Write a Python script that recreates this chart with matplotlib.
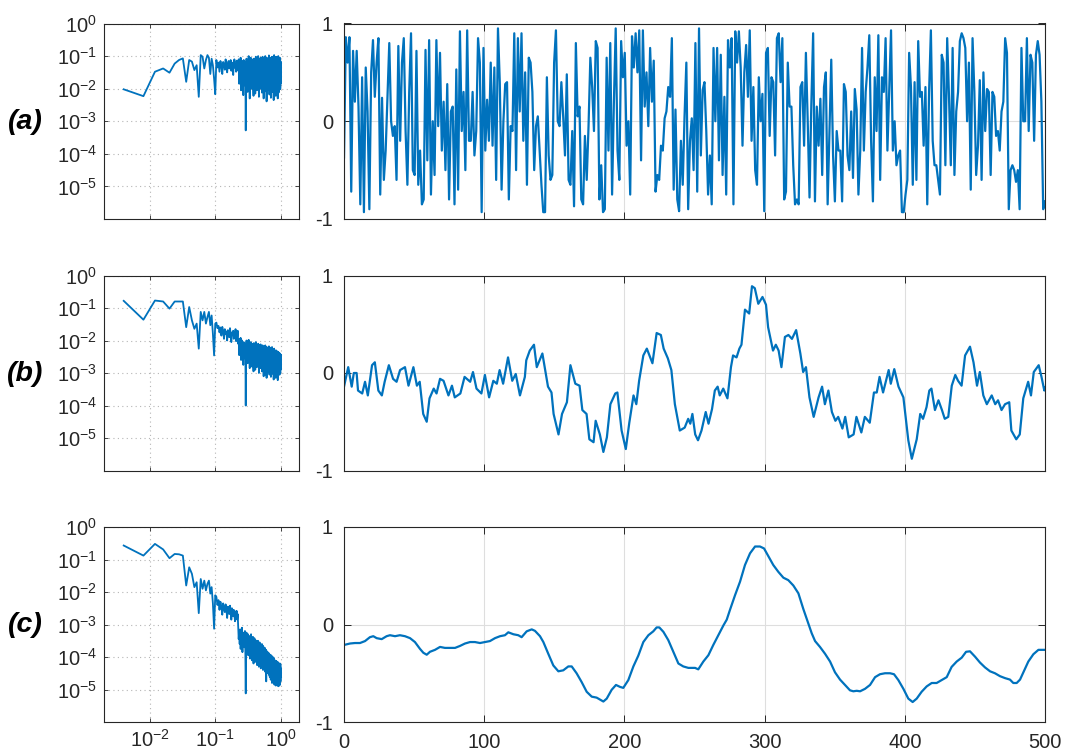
import numpy as np
import matplotlib
matplotlib.use("Agg")
import matplotlib.pyplot as plt
from matplotlib.ticker import NullLocator

plt.rcParams['font.family'] = ['Liberation Sans', 'DejaVu Sans']
plt.rcParams['axes.unicode_minus'] = False

# --- time signals -----------------------------------------------------------
# (a) white-ish noise, read peak by peak from the picture
sig_a = [
    -0.37, 0.86, 0.6, 0.86, -0.72, 0.72, 0.2, 0.72, 0.15, -0.85,
    0.45, -0.93, 0.55, 0.1, -0.9, 0.5, 0.83, 0.25, 0.6, 0.85,
    -0.75, 0.24, -0.6, -0.3, 0.25, 0.8, 0.0, -0.15, -0.05, -0.6,
    0.77, -0.2, 0.6, 0.85, -0.1, -0.65, 0.3, 0.9, -0.5, -0.55,
    0.72, -0.65, -0.3, -0.85, -0.8, 0.73, -0.4, 0.83, -0.75, 0.0,
    -0.55, 0.83, -0.05, 0.7, -0.3, 0.2, -0.5, 0.38, -0.8, 0.1,
    0.15, -0.85, 0.53, -0.7, 0.92, -0.1, 0.3, -0.5, 0.93, -0.2,
    -0.2, 0.3, -0.35, -0.1, 0.85, 0.6, -0.93, 0.75, -0.3, 0.22,
    -0.2, 0.6, -0.25, 0.55, -0.6, 0.95, 0.4, -0.7, 0.0, 0.38,
    0.4, -0.8, -0.05, -0.1, 0.9, -0.5, 0.85, 0.1, 0.9, -0.2,
    0.5, -0.65, 0.65, 0.6, 0.3, -0.5, -0.05, 0.05, -0.3, -0.65,
    -0.93, -0.93, 0.45, -0.35, -0.6, -0.55, 0.6, 0.93, 0.0, -0.05,
    0.4, 0.05, -0.35, 0.48, -0.6, -0.65, -0.1, -0.87, 0.8, 0.05,
    0.15, -0.8, -0.85, -0.15, -0.6, -0.05, 0.65, 0.35, -0.1, 0.82,
    0.75, -0.8, -0.45, -0.93, -0.9, 0.65, -0.3, 0.8, -0.75, 0.2,
    0.95, -0.3, -0.6, 0.82, 0.45, 0.7, -0.25, 0.0, -0.75, 0.87,
    0.55, 0.9, 0.5, 0.93, -0.4, 0.93, 0.15, 0.5, -0.05, 0.75,
    0.2, 0.62, -0.72, -0.55, -0.6, -0.25, -0.3, 0.03, 0.1, 0.35,
    0.25, 0.85, -0.7, 0.12, -0.8, -0.92, -0.2, -0.65, 0.05, 0.6,
    -0.9, -0.2, 0.03, -0.5, 0.8, -0.72, 0.95, -0.35, 0.32, 0.4,
    -0.1, -0.75, -0.35, -0.85, 0.75, 0.0, 0.75, -0.4, 0.68, -0.55,
    0.25, -0.75, 0.83, 0.55, 0.85, -0.85, 0.92, 0.6, 0.92, 0.55,
    -0.25, 0.5, 0.78, 0.25, 0.93, -0.2, 0.35, -0.5, -0.65, 0.45,
    0.0, 0.28, -0.92, 0.7, 0.75, -0.15, 0.45, 0.4, -0.35, 0.85,
    0.9, 0.4, 0.85, -0.8, -0.72, 0.6, 0.15, 0.15, -0.45, -0.85,
    -0.8, -0.85, 0.35, 0.4, -0.25, 0.7, 0.0, -0.78, 0.18, 0.9,
    -0.82, 0.15, -0.25, 0.23, -0.55, 0.35, 0.5, -0.85, -0.1, 0.63,
    -0.35, -0.82, -0.1, -0.3, -0.3, -0.82, 0.38, 0.3, -0.35, -0.5,
    0.1, -0.58, 0.33, 0.12, -0.75, -0.3, 0.75, -0.3, 0.3, 0.55,
    0.88, -0.2, -0.82, 0.45, -0.1, 0.88, -0.6, 0.45, 0.3, 0.85,
    -0.3, 0.3, 0.93, -0.3, 0.0, -0.45, -0.35, -0.3, -0.93, -0.93,
    -0.75, -0.6, 0.7, 0.35, -0.65, 0.4, -0.6, 0.82, 0.25, 0.3,
    -0.25, 0.35, -0.85, 0.3, 0.93, -0.2, -0.45, -0.45, -0.6, -0.75,
    0.68, 0.6, -0.45, 0.85, 0.25, -0.45, 0.75, -0.55, 0.1, 0.3,
    0.82, 0.9, 0.85, 0.75, 0.0, 0.6, -0.7, 0.85, 0.3, -0.55,
    -0.25, 0.42, -0.6, 0.5, -0.1, 0.33, 0.3, -0.55, 0.3, 0.25,
    -0.15, -0.1, -0.3, 0.1, 0.2, 0.85, 0.7, -0.9, -0.5, -0.45,
    -0.5, -0.62, -0.5, -0.9, 0.75, 0.0, 0.0, 0.85, -0.1, 0.68,
    0.6, -0.2, 0.68, 0.82, 0.68, 0.2, -0.9, -0.82,
]

# (b) moderately smoothed signal: sample index / value
t_b = [0, 3, 5.5, 7, 9, 10, 13, 15, 17, 20, 22, 24.5, 27, 29, 32, 35, 37.5, 40,
       43.5, 46, 49.5, 52, 54, 56.5, 59, 61, 64, 66, 68.5, 71, 74.5, 77, 79, 83,
       86, 90, 92, 94.5, 98, 100.5, 103.5, 106.5, 109, 111, 113.5, 117, 120,
       122.5, 125.5, 129, 130, 132.5, 135.5, 137.5, 141.5, 145.5, 148, 149.5,
       153, 155.5, 159, 161.5, 165, 168, 170, 173, 175, 178, 179.5, 182.5, 185,
       187.5, 190, 193.5, 195, 198, 201, 203.5, 206.5, 208.5, 210.5, 213.5,
       216, 220, 223, 226, 228, 231, 233.5, 236, 239.5, 243, 245.5, 247, 248.5,
       250.5, 252.5, 255, 258, 260, 262.5, 264.5, 266.5, 268, 270.5, 273.5,
       276, 277.5, 280, 282, 283.5, 286, 289, 291, 293, 295.5, 298.5, 301,
       302.5, 306, 308, 310, 312, 314.5, 317, 319.5, 322.5, 325.5, 327.5,
       329.5, 332, 335, 338.5, 341, 343, 345.5, 348, 350.5, 352.5, 355.5, 357.5,
       360, 363.5, 365.5, 369, 371.5, 375, 378, 380, 382, 384.5, 388.5, 390,
       392.5, 395.5, 399, 402.5, 405, 408.5, 411, 413, 415.5, 417.5, 419, 421.5,
       424, 426.5, 428.5, 431, 433.5, 436, 438, 440.5, 443, 446.5, 449, 451.5,
       453.5, 456, 458.5, 462, 464.5, 466.5, 469, 471.5, 474.5, 476, 479.5, 482,
       484.5, 488, 490, 492, 495.5, 497.5, 499.5, 500]
sig_b = [-0.14, 0.06, -0.14, 0.0, 0.0, -0.18, -0.21, -0.09, -0.23, 0.08, 0.11,
         -0.18, -0.23, -0.09, 0.08, -0.06, -0.09, 0.03, 0.06, -0.13, 0.06,
         -0.13, -0.09, -0.42, -0.5, -0.26, -0.16, -0.21, -0.06, -0.08, -0.23,
         -0.13, -0.25, -0.21, -0.04, -0.09, 0.01, -0.16, -0.21, -0.02, -0.25,
         -0.08, -0.11, 0.03, -0.11, 0.16, -0.08, -0.01, -0.23, -0.04, 0.13,
         0.23, 0.29, 0.06, 0.2, -0.14, -0.2, -0.42, -0.63, -0.42, -0.3, 0.08,
         -0.11, -0.13, -0.38, -0.42, -0.68, -0.71, -0.49, -0.63, -0.81, -0.66,
         -0.32, -0.21, -0.2, -0.59, -0.78, -0.51, -0.23, -0.32, -0.08, 0.18,
         0.25, 0.1, 0.41, 0.39, 0.25, 0.15, 0.03, -0.32, -0.59, -0.56, -0.47,
         -0.52, -0.42, -0.63, -0.69, -0.59, -0.4, -0.52, -0.37, -0.18, -0.14,
         -0.23, -0.16, -0.26, 0.06, 0.18, 0.16, 0.25, 0.29, 0.65, 0.61, 0.89,
         0.87, 0.71, 0.78, 0.70, 0.47, 0.23, 0.29, 0.23, 0.06, 0.37, 0.39, 0.35,
         0.44, 0.2, 0.01, 0.06, -0.25, -0.45, -0.25, -0.14, -0.32, -0.18, -0.4,
         -0.49, -0.45, -0.57, -0.45, -0.66, -0.63, -0.45, -0.61, -0.45, -0.51,
         -0.2, -0.2, -0.04, -0.2, 0.03, -0.11, 0.04, -0.14, -0.25, -0.69, -0.88,
         -0.68, -0.42, -0.47, -0.35, -0.18, -0.16, -0.38, -0.28, -0.38, -0.47,
         -0.45, -0.13, -0.02, -0.08, -0.13, 0.18, 0.27, 0.11, -0.13, 0.01, -0.23,
         -0.32, -0.23, -0.32, -0.28, -0.38, -0.32, -0.3, -0.59, -0.68, -0.63,
         -0.26, -0.09, -0.23, 0.01, 0.08, -0.04, -0.18, -0.15]

# (c) strongly smoothed signal
t_c = [0, 4.3, 7.8, 11.4, 15, 18.5, 20.9, 23.3, 26.9, 30.4, 32.8, 36.4, 39.9,
       43.5, 47.1, 50.6, 54.2, 56.6, 59, 61.3, 64.9, 68.5, 72, 75.6, 79.2, 82.7,
       86.3, 89.9, 93.4, 97, 100.6, 104.1, 107.7, 111.3, 114.8, 117.2, 120.8,
       124.3, 126.7, 130.3, 133.9, 136.2, 139.8, 142.2, 145.7, 149.3, 152.9,
       156.4, 160, 162.4, 165.9, 169.5, 173.1, 176.7, 180.2, 182.6, 185, 187.4,
       190.9, 194, 196.9, 199.2, 202.8, 206.4, 209.9, 213.5, 217.1, 220.6, 223,
       224.9, 227.8, 231.3, 234.9, 238.5, 242, 245.6, 250.4, 252.7, 256.3,
       259.9, 263.4, 267, 270.6, 273, 275.3, 278.9, 282.5, 286, 289.6, 293.2,
       296.7, 299.6, 302.7, 306.2, 309.8, 313.4, 316.9, 320.5, 324.1, 327.6,
       331.2, 333.6, 336, 339.5, 343.1, 346.7, 350.2, 353.8, 357.4, 360.9,
       363.3, 365.7, 368.1, 371.6, 375.2, 378.8, 382.3, 385.9, 389.5, 392.3,
       395.4, 399, 402.5, 405.6, 408.5, 412, 415.6, 419.2, 422.7, 426.3, 429.9,
       433.4, 437, 440.6, 443.7, 446.5, 450.1, 453.6, 457.2, 460.8, 464.3,
       467.9, 471.5, 475, 477.4, 479.8, 482.2, 484.6, 488.1, 491.7, 495.3,
       498.8, 500]
sig_c = [-0.21, -0.195, -0.19, -0.19, -0.17, -0.13, -0.12, -0.14, -0.15, -0.12,
         -0.11, -0.12, -0.11, -0.12, -0.14, -0.18, -0.25, -0.29, -0.31, -0.28,
         -0.26, -0.23, -0.24, -0.24, -0.24, -0.22, -0.195, -0.18, -0.18, -0.19,
         -0.18, -0.17, -0.14, -0.12, -0.11, -0.08, -0.10, -0.11, -0.13, -0.07,
         -0.05, -0.065, -0.12, -0.18, -0.30, -0.42, -0.48, -0.47, -0.43, -0.43,
         -0.50, -0.59, -0.69, -0.74, -0.75, -0.77, -0.79, -0.76, -0.67, -0.62,
         -0.64, -0.65, -0.57, -0.43, -0.32, -0.18, -0.11, -0.07, -0.03, -0.03,
         -0.075, -0.16, -0.28, -0.40, -0.43, -0.445, -0.445, -0.46, -0.38,
         -0.315, -0.21, -0.11, -0.01, 0.05, 0.15, 0.30, 0.44, 0.61, 0.73, 0.80,
         0.80, 0.78, 0.70, 0.61, 0.54, 0.48, 0.455, 0.40, 0.32, 0.16, 0.01,
         -0.09, -0.17, -0.23, -0.30, -0.38, -0.49, -0.565, -0.62, -0.675,
         -0.685, -0.68, -0.685, -0.66, -0.62, -0.54, -0.51, -0.50, -0.50, -0.51,
         -0.57, -0.66, -0.76, -0.795, -0.76, -0.69, -0.635, -0.60, -0.60, -0.57,
         -0.54, -0.435, -0.38, -0.34, -0.28, -0.275, -0.33, -0.39, -0.44, -0.48,
         -0.50, -0.53, -0.55, -0.565, -0.60, -0.60, -0.565, -0.49, -0.38,
         -0.305, -0.26, -0.26, -0.26]

# --- amplitude spectra, log10 of magnitude, bins k = 1..250 ------------------
spec_a_log = [
    -2.02, -2.23, -1.48, -1.38, -1.51, -1.23, -1.12, -1.07, -1.79, -1.12,
    -1.17, -1.43, -1.28, -2.25, -0.97, -1.02, -1.38, -1.12, -0.97, -1.05,
    -1.55, -1.08, -1.28, -1.70, -2.17,
    -1.12, -1.35, -1.20, -1.48, -1.15, -1.30, -1.55, -1.18, -1.25, -1.42,
    -1.10, -1.33, -1.50, -1.22, -1.15, -1.38, -1.27, -1.12, -1.45, -1.20,
    -1.32, -1.58, -1.18, -1.10, -1.36, -1.25, -1.48, -1.14, -1.30, -1.22,
    -1.45, -1.10, -1.85, -1.25, -1.60, -1.05, -2.05, -1.30, -1.15, -1.70, -1.40, -2.20, -1.12, -1.55, -1.30,
    -1.90, -1.20, -3.28, -1.35, -1.08, -1.65, -1.25, -2.10, -1.15, -1.45, -1.00, -1.80, -1.35, -2.30, -1.18,
    -1.50, -1.05, -1.75, -1.28, -2.00, -1.10, -1.40, -1.62, -1.20, -1.95, -2.22, -1.08, -1.50, -1.33, -1.85,
    -1.15, -2.15, -1.38, -1.02, -1.70, -1.25, -1.58, -2.05, -1.12, -1.45, -1.30, -1.90, -1.00, -1.65, -1.28,
    -2.25, -1.18, -1.48, -1.10, -1.78, -1.35, -2.00, -1.05, -1.55, -1.25, -1.88, -1.12, -1.42, -2.12, -1.20,
    -1.60, -1.02, -1.95, -1.30, -1.50, -1.15, -2.30, -1.25, -1.68, -1.08, -1.40, -1.85, -1.18, -1.55, -1.00,
    -1.72, -1.32, -2.08, -1.12, -1.45, -1.28, -2.39, -1.05, -1.62, -1.38, -1.90, -1.15, -1.50, -1.22, -2.02,
    -1.10, -1.58, -1.35, -1.80, -0.98, -1.48, -1.25, -2.18, -1.12, -1.65, -1.40, -1.05, -1.92, -1.30, -1.55,
    -1.18, -2.28, -1.08, -1.45, -1.70, -1.22, -1.98, -1.35, -1.02, -1.60, -1.28, -2.10, -1.15, -1.52, -1.40,
    -1.85, -1.05, -1.62, -1.30, -2.35, -1.20, -1.48, -0.97, -1.75, -1.35, -1.55, -2.05, -1.10, -1.42, -1.25,
    -1.95, -1.12, -1.68, -1.38, -2.22, -1.02, -1.50, -1.28, -1.82, -1.15, -1.60, -1.05, -2.00, -1.32, -1.45,
    -1.20, -1.88, -1.08, -1.58, -2.30, -1.25, -1.40, -1.72, -1.00, -1.52, -1.35, -2.12, -1.18, -1.65, -1.28,
    -1.95, -1.10, -1.48, -1.22, -2.02, -1.38, -1.05, -1.75, -1.30, -1.55, -2.00, -1.15, -1.42, -1.85, -1.20,
]
spec_b_log = [
    -0.78, -1.36, -0.77, -0.80, -1.02, -0.80, -0.80, -0.80, -1.59, -0.97,
    -1.38, -1.64, -1.48, -2.25, -1.12, -1.38, -1.12, -1.48, -1.28, -1.12,
    -1.53, -1.23, -1.79, -2.46, -1.48,
    -1.45, -1.62, -1.55, -1.75, -1.60, -1.85, -1.58, -1.70, -1.95, -1.65,
    -1.80, -1.72, -2.00, -1.68, -1.78, -1.90, -1.62, -1.85, -2.05, -1.75,
    -1.82, -1.70, -1.95, -1.80, -1.88, -1.65, -2.02, -1.78, -1.90, -1.70,
    -2.10, -1.95, -2.45, -2.05, -2.30, -1.92, -2.60, -2.15, -2.00, -2.40, -2.20, -2.75, -2.05, -2.35, -2.18,
    -2.55, -2.10, -4.00, -2.25, -2.00, -2.45, -2.15, -2.70, -2.08, -2.35, -1.98, -2.55, -2.25, -2.85, -2.12,
    -2.40, -2.05, -2.62, -2.22, -2.80, -2.10, -2.38, -2.50, -2.15, -2.72, -2.95, -2.08, -2.45, -2.30, -2.65,
    -2.18, -2.90, -2.35, -2.05, -2.58, -2.25, -2.48, -2.82, -2.15, -2.42, -2.30, -2.75, -2.10, -2.55, -2.28,
    -3.00, -2.20, -2.48, -2.15, -2.68, -2.35, -2.85, -2.12, -2.50, -2.30, -2.78, -2.18, -2.45, -2.95, -2.25,
    -2.60, -2.15, -2.88, -2.35, -2.52, -2.22, -3.10, -2.32, -2.65, -2.18, -2.45, -2.80, -2.28, -2.58, -2.15,
    -2.70, -2.38, -3.05, -2.22, -2.50, -2.35, -3.15, -2.20, -2.62, -2.42, -2.85, -2.28, -2.55, -2.32, -2.95,
    -2.25, -2.60, -2.40, -2.80, -2.18, -2.52, -2.35, -3.05, -2.28, -2.68, -2.45, -2.22, -2.90, -2.40, -2.58,
    -2.30, -3.12, -2.25, -2.50, -2.72, -2.35, -2.95, -2.45, -2.20, -2.65, -2.40, -3.02, -2.32, -2.58, -2.48,
    -2.85, -2.28, -2.65, -2.42, -3.20, -2.38, -2.55, -2.25, -2.78, -2.45, -2.62, -3.00, -2.32, -2.52, -2.40,
    -2.92, -2.35, -2.70, -2.48, -3.15, -2.30, -2.58, -2.45, -2.85, -2.38, -2.65, -2.32, -3.00, -2.50, -2.55,
    -2.42, -2.88, -2.35, -2.62, -3.22, -2.45, -2.55, -2.78, -2.35, -2.60, -2.50, -3.05, -2.42, -2.70, -2.48,
    -2.95, -2.38, -2.62, -2.45, -3.05, -2.55, -2.40, -2.80, -2.50, -2.65, -3.00, -2.42, -2.58, -2.90, -2.45,
]
spec_c_log = [
    -0.57, -0.88, -0.52, -0.69, -0.96, -0.83, -0.84, -0.88, -1.80, -1.24,
    -1.44, -1.85, -1.70, -2.65, -1.60, -1.90, -1.65, -1.95, -1.75, -1.65,
    -2.05, -1.85, -2.35, -3.13, -2.10,
    -2.15, -2.40, -2.25, -2.55, -2.30, -2.45, -2.70, -2.35, -2.50, -2.62,
    -2.38, -2.55, -2.80, -2.45, -2.52, -2.68, -2.42, -2.60, -2.85, -2.50,
    -2.58, -2.75, -2.55, -2.65, -2.90, -2.60, -2.72, -2.58, -2.85, -2.68,
    -3.05, -3.45, -3.20, -3.60, -3.15, -3.75, -3.30, -3.50, -3.10, -3.85, -3.35, -3.55, -3.25, -3.70, -3.40,
    -3.20, -3.80, -5.12, -3.45, -3.25, -3.90, -3.38, -3.60, -3.30, -3.95, -3.48, -3.35, -3.75, -3.50, -4.05,
    -3.40, -3.65, -3.30, -3.90, -3.55, -4.10, -3.45, -3.70, -3.38, -3.85, -4.20, -3.50, -3.62, -3.42, -3.95,
    -3.55, -4.15, -3.48, -3.72, -3.60, -4.00, -3.52, -3.80, -4.25, -3.58, -3.70, -3.50, -4.05, -3.65, -3.85,
    -4.30, -3.60, -3.78, -3.55, -4.10, -3.70, -3.90, -3.62, -4.35, -3.75, -3.68, -4.00, -3.82, -3.60, -4.20,
    -3.72, -3.95, -3.65, -4.40, -3.80, -3.75, -4.05, -3.70, -4.25, -3.88, -3.78, -4.12, -3.72, -4.45, -3.85,
    -3.95, -3.80, -4.20, -3.78, -4.75, -3.90, -4.05, -3.82, -4.30, -3.88, -4.10, -4.50, -3.85, -4.02, -3.92,
    -4.35, -3.90, -4.15, -3.88, -4.55, -4.00, -3.95, -4.28, -3.92, -4.62, -4.05, -3.98, -4.40, -3.95, -4.18,
    -4.70, -4.02, -4.10, -3.95, -4.45, -4.08, -4.25, -3.98, -4.80, -4.12, -4.05, -4.35, -4.00, -4.55, -4.15,
    -4.08, -4.40, -4.02, -4.75, -4.20, -4.10, -4.48, -4.05, -4.30, -4.85, -4.15, -4.22, -4.10, -4.60, -4.18,
    -4.35, -4.12, -4.50, -4.20, -4.88, -4.15, -4.28, -4.42, -4.12, -4.65, -4.25, -4.18, -4.55, -4.22, -4.40,
    -4.85, -4.20, -4.32, -4.15, -4.60, -4.28, -4.45, -4.18, -4.90, -4.25, -4.38, -4.22, -4.70, -4.30, -4.42,
    -4.20, -4.88, -4.28, -4.50, -4.25, -4.62, -4.35, -4.20, -4.85, -4.30, -4.45, -4.22, -4.75, -4.35, -4.60,
]

labels = ['(a)', '(b)', '(c)']
n_bins = 250
freq = np.arange(1, n_bins + 1) / n_bins   # normalised frequency

blue = '#0072BD'
dark = '#262626'

rows = [
    (np.linspace(0, 500, len(sig_a)), sig_a, spec_a_log),
    (t_b, sig_b, spec_b_log),
    (t_c, sig_c, spec_c_log),
]

# axes boxes in pixels (top, bottom) for each row
tops = [23.5, 275.5, 527]
bottoms = [219, 470.5, 722]
W, H = 1068, 752

fig = plt.figure(figsize=(W / 100, H / 100), dpi=100)

for i, (t, sig, spec) in enumerate(rows):
    b = 1 - bottoms[i] / H
    h = (bottoms[i] - tops[i]) / H

    # spectrum panel
    axL = fig.add_axes([104 / W, b, 195 / W, h])
    axL.loglog(freq, 10 ** np.array(spec), color=blue, lw=1.3)
    axL.set_xlim(2e-3, 1.9)
    axL.set_ylim(1e-6, 1)
    axL.set_xticks([1e-2, 1e-1, 1])
    axL.set_yticks([1e-5, 1e-4, 1e-3, 1e-2, 1e-1, 1])
    axL.xaxis.set_minor_locator(NullLocator())
    axL.yaxis.set_minor_locator(NullLocator())
    axL.grid(True, which='major', linestyle=(0, (1, 3)), color='#b5b5b5', lw=0.8)
    axL.tick_params(direction='in', length=3, width=0.6, colors=dark,
                    labelsize=14.5, top=True, right=True, pad=5)
    if i < 2:
        axL.tick_params(labelbottom=False)

    # time signal panel
    axR = fig.add_axes([344 / W, b, 701 / W, h])
    axR.plot(t, sig, color=blue, lw=1.6)
    axR.set_xlim(0, 500)
    axR.set_ylim(-1, 1)
    axR.set_xticks(range(0, 501, 100))
    axR.set_yticks([-1, 0, 1])
    axR.grid(True, color='#dedede', lw=0.8)
    axR.tick_params(direction='in', length=5, width=0.7, colors=dark,
                    labelsize=14.5, top=True, right=True, pad=8)
    if i < 2:
        axR.tick_params(labelbottom=False)

    for ax in (axL, axR):
        for s in ax.spines.values():
            s.set_color(dark)
            s.set_linewidth(0.8)
        ax.set_axisbelow(True)

    yc = 1 - ((tops[i] + bottoms[i]) / 2 + 1) / H
    fig.text(25 / W, yc, labels[i], fontsize=20.5, fontweight='bold',
             fontstyle='italic', ha='center', va='center', color='black')

fig.savefig('out.png', dpi=100)
